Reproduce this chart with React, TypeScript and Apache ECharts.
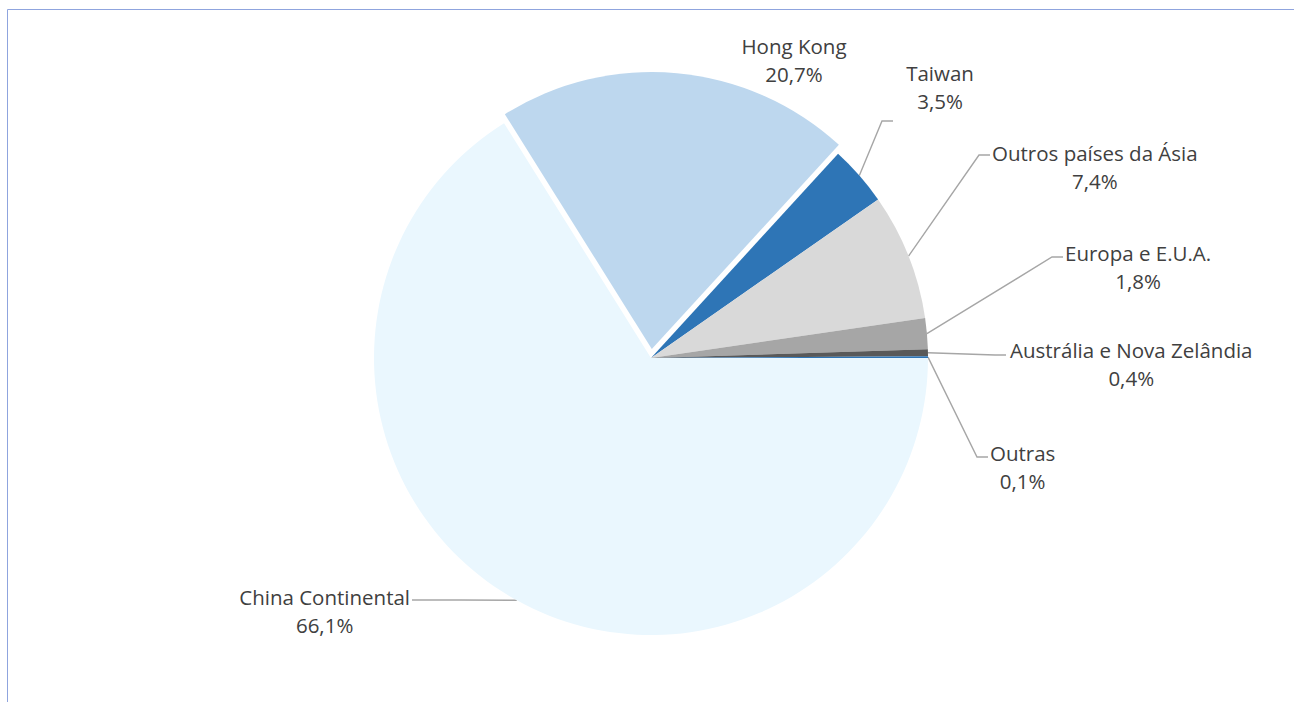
import React, { useEffect, useRef } from "react";
import * as echarts from "echarts";

// ---- data ----
const categories = [
  "China Continental",
  "Hong Kong",
  "Taiwan",
  "Outros países da Ásia",
  "Europa e E.U.A.",
  "Austrália e Nova Zelândia",
  "Outras",
];
const shares = [66.1, 20.7, 3.5, 7.4, 1.8, 0.4, 0.1];
const explodedIndex = 1;

// ---- styles / layout (not data) ----
const sliceColors = ["#EAF7FE", "#BDD7EE", "#2E75B6", "#D9D9D9", "#A6A6A6", "#595959", "#2E75B6"];
const CENTER = [651, 358];
const RADIUS = 277;
const EXPLODE = 9;
const FONT = "Open Sans";
const FONT_SIZE = 20.5;
const LINE_H = 27.5;
const labelX = [410, 794, 940, 992, 1065, 1010, 990];
const labelFirstLineY = [597, 46, 73, 153, 253, 350, 453];
const labelAlign = ["right", "center", "center", "left", "left", "left", "left"];
const leaders: (number[][] | null)[] = [
  [[460, 600], [412, 600]],
  null,
  [[882, 121], [893, 121]],
  [[979, 155], [990, 155]],
  [[1052, 257], [1063, 257]],
  [[995, 355], [1006, 355]],
  [[977, 457], [988, 457]],
];

const fmtPct = (v: number) => v.toFixed(1).replace(".", ",") + "%";

export default function App() {
  const ref = useRef<HTMLDivElement>(null);
  useEffect(() => {
    if (!ref.current) return;
    const chart = echarts.init(ref.current, null, { renderer: "svg" });

    // offset of the exploded slice, along its mid angle (clockwise from 3 o'clock)
    const total = shares.reduce((a, b) => a + b, 0);
    const before = shares.slice(0, explodedIndex).reduce((a, b) => a + b, 0);
    const midDeg = ((before + shares[explodedIndex] / 2) / total) * 360;
    const mid = (midDeg * Math.PI) / 180;
    const explodedCenter = [CENTER[0] + Math.cos(mid) * EXPLODE, CENTER[1] + Math.sin(mid) * EXPLODE];

    const baseData = categories.map((name, i) => ({
      name,
      value: shares[i],
      itemStyle: { color: i === explodedIndex ? "rgba(0,0,0,0)" : sliceColors[i] },
      labelLine: { show: leaders[i] !== null },
    }));
    const explodedData = categories.map((name, i) => ({
      name,
      value: shares[i],
      itemStyle: { color: i === explodedIndex ? sliceColors[i] : "rgba(0,0,0,0)" },
    }));

    const textStyle = {
      align: "center",
      color: "#404040",
      fontFamily: FONT,
      fontSize: FONT_SIZE,
      lineHeight: LINE_H,
    };

    chart.setOption({
      animation: false,
      backgroundColor: "#ffffff",
      graphic: [
        {
          type: "line",
          shape: { x1: 7.5, y1: 9.5, x2: 1294, y2: 9.5 },
          style: { stroke: "#8FA4DE", lineWidth: 1 },
          silent: true,
        },
        {
          type: "line",
          shape: { x1: 7.5, y1: 9.5, x2: 7.5, y2: 702 },
          style: { stroke: "#8FA4DE", lineWidth: 1 },
          silent: true,
        },
      ],
      series: [
        {
          type: "pie",
          center: CENTER,
          radius: RADIUS,
          startAngle: 0,
          clockwise: true,
          avoidLabelOverlap: false,
          emphasis: { disabled: true },
          itemStyle: { borderWidth: 0 },
          label: {
            show: true,
            position: "outside",
            formatter: (p: any) => `{n|${p.name}}\n{v|${fmtPct(p.value)}}`,
            color: "#404040",
            fontFamily: FONT,
            fontSize: FONT_SIZE,
            lineHeight: LINE_H,
            rich: { n: textStyle, v: textStyle },
          },
          labelLine: {
            show: true,
            lineStyle: { color: "#A6A6A6", width: 1.4 },
          },
          labelLayout: (params: any) => {
            const i = params.dataIndex;
            const res: any = {
              x: labelX[i],
              y: labelFirstLineY[i] - LINE_H / 2,
              align: labelAlign[i],
              verticalAlign: "top",
            };
            const lp = params.labelLinePoints;
            if (lp && leaders[i]) {
              res.labelLinePoints = [lp[0], leaders[i]![0], leaders[i]![1]];
            }
            return res;
          },
          data: baseData,
        },
        {
          type: "pie",
          center: explodedCenter,
          radius: RADIUS,
          startAngle: 0,
          clockwise: true,
          silent: true,
          emphasis: { disabled: true },
          itemStyle: { borderWidth: 0 },
          label: { show: false },
          labelLine: { show: false },
          data: explodedData,
        },
      ],
    });
    return () => chart.dispose();
  }, []);
  return (
    <div
      ref={ref}
      style={{ position: "absolute", left: 0, top: 0, width: 1294, height: 702 }}
    />
  );
}
